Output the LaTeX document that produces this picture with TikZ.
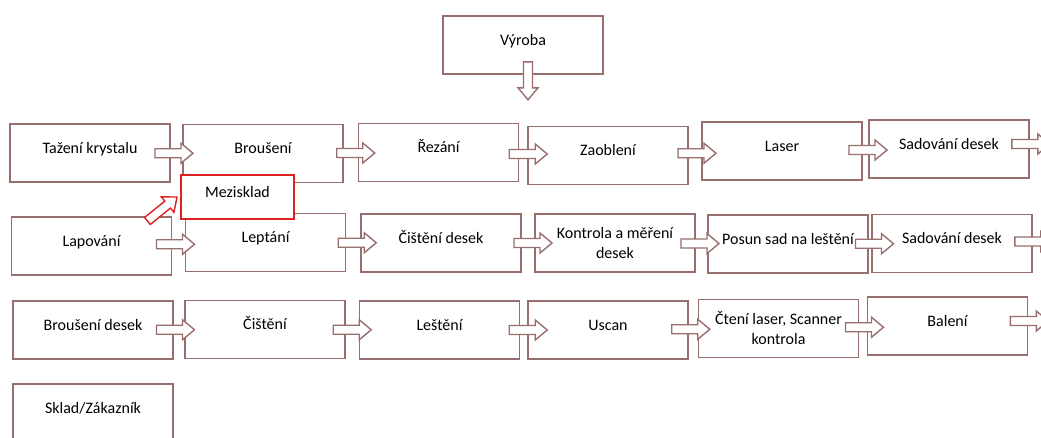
\documentclass[tikz,border=0pt]{standalone}
\usepackage{fontspec}
\setmainfont{Carlito}
\usetikzlibrary{calc}

\definecolor{boxline}{RGB}{152,110,110}
\definecolor{storeline}{RGB}{222,34,34}

\tikzset{
  stepbox/.style={draw=boxline, line width=1.6pt, fill=white,
    minimum width=160pt, minimum height=58pt, inner sep=0pt,
    text height=12pt, text depth=12pt, align=center},
  twoline/.style={text height=, text depth=},
  storebox/.style={draw=storeline, line width=1.6pt, fill=white,
    minimum width=113pt, minimum height=44pt, inner sep=0pt,
    text height=12pt, text depth=12pt},
  pics/flow/.style={code={
    \draw[draw=#1, line width=1.4pt, fill=white, line join=miter]
      (-19,-4.5) -- (7,-4.5) -- (7,-10) -- (19,0) -- (7,10) -- (7,4.5) -- (-19,4.5) -- cycle;
  }},
  pics/flow/.default=boxline
}

% block arrow between two boxes, optional shift along the row
\newcommand{\flowarrow}[3][2]{\pic at ($($(#2.east)!0.5!(#3.west)$)+(#1,0)$) {flow};}

\begin{document}
\begin{tikzpicture}[x=1pt, y=-1pt, font=\fontsize{16}{20}\selectfont]
  \useasboundingbox (0,0) rectangle (1041,437);

  % top
  \node[stepbox] (vy) at (523,45) {Výroba};

  % row 1
  \node[stepbox] (tk) at (90,153) {Tažení krystalu};
  \node[stepbox] (br) at (263,153.5) {Broušení};
  \node[stepbox] (rz) at (438.5,152.5) {Řezání};
  \node[stepbox] (za) at (608,155.5) {Zaoblení};
  \node[stepbox] (la) at (782,151) {Laser};
  \node[stepbox] (sd1) at (949,149) {Sadování desek};

  % row 2
  \node[stepbox] (lp) at (91.5,246) {Lapování};
  \node[stepbox] (le) at (265.5,242.5) {Leptání};
  \node[stepbox] (cd) at (441,243) {Čištění desek};
  \node[stepbox, twoline] (km) at (615,243) {Kontrola a měření\\desek};
  \node[stepbox] (ps) at (788,244) {Posun sad na leštění};
  \node[stepbox] (sd2) at (952,243.5) {Sadování desek};

  % row 3
  \node[stepbox] (bd) at (93,330) {Broušení desek};
  \node[stepbox] (ci) at (265,329.5) {Čištění};
  \node[stepbox] (ls) at (439.5,330) {Leštění};
  \node[stepbox] (us) at (608,330) {Uscan};
  \node[stepbox, twoline] (ct) at (778.5,328.5) {Čtení laser, Scanner\\kontrola};
  \node[stepbox] (ba) at (947.5,326) {Balení};

  % row 4
  \node[stepbox] (sk) at (93,413) {Sklad/Zákazník};

  % arrows
  \pic[rotate=-90] at ([xshift=5pt,yshift=-6pt]vy.south) {flow};

  \flowarrow[-2.5]{tk}{br}
  \flowarrow[5]{br}{rz}
  \flowarrow[5]{rz}{za}
  \flowarrow{za}{la}
  \flowarrow[2.5]{la}{sd1}
  \pic at ([xshift=1pt,yshift=5pt]sd1.east) {flow};

  \flowarrow[-3]{lp}{le}
  \flowarrow[4]{le}{cd}
  \flowarrow[5]{cd}{km}
  \flowarrow[-1.5]{km}{ps}
  \flowarrow[4.5]{ps}{sd2}
  \pic at ([xshift=1pt,yshift=2pt]sd2.east) {flow};

  \flowarrow[-3.5]{bd}{ci}
  \flowarrow[0]{ci}{ls}
  \flowarrow[4.5]{ls}{us}
  \flowarrow[-2.5]{us}{ct}
  \flowarrow[1.5]{ct}{ba}
  \pic at ([xshift=1pt,yshift=5pt]ba.east) {flow};

  % intermediate store
  \node[storebox] (mz) at (237.5,197) {Mezisklad};
  \pic[rotate=39] at ([xshift=-18pt,yshift=-12pt]mz.west) {flow=storeline};
\end{tikzpicture}
\end{document}
